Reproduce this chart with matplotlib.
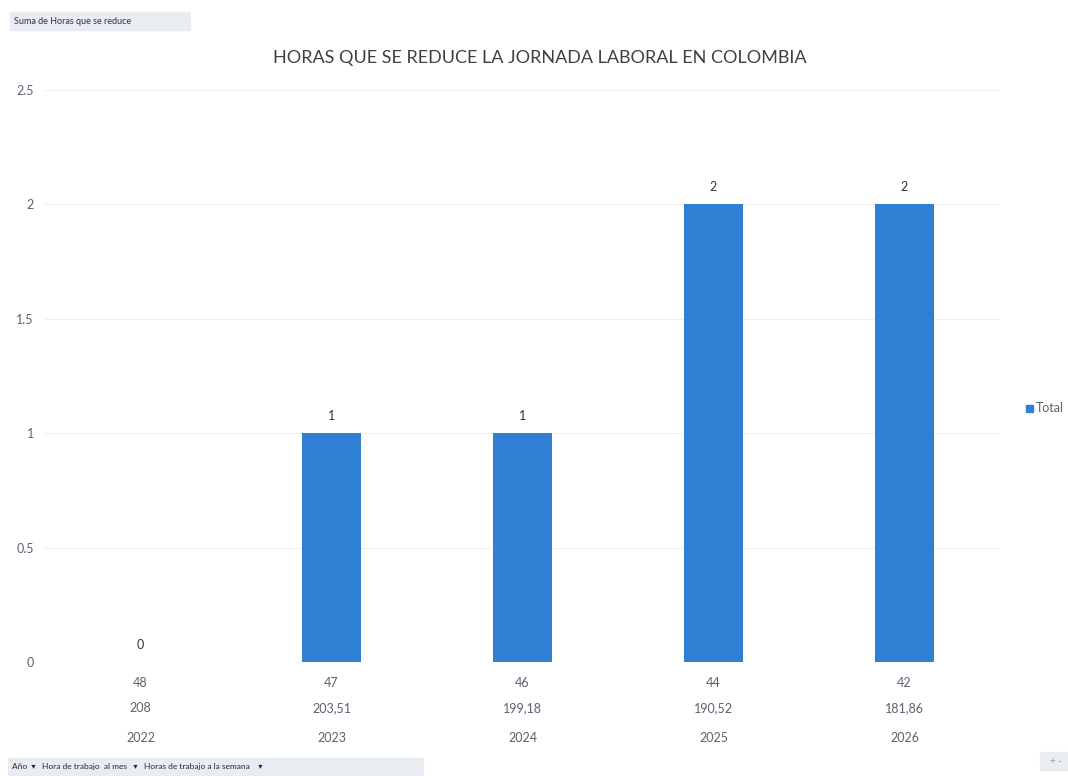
import matplotlib
matplotlib.use("Agg")
import matplotlib.pyplot as plt
from matplotlib.patches import FancyBboxPatch, Rectangle
import matplotlib.transforms as mtransforms

plt.rcParams['font.family'] = ['Lato', 'DejaVu Sans']

years = ["2022", "2023", "2024", "2025", "2026"]
hours_month = ["208", "203,51", "199,18", "190,52", "181,86"]
hours_week = ["48", "47", "46", "44", "42"]
hours_reduced = [0, 1, 1, 2, 2]
y_ticks = [0, 0.5, 1, 1.5, 2, 2.5]
y_ticklabels = ["0", "0.5", "1", "1.5", "2", "2.5"]

bar_color = "#2F80D4"
text_color = "#5a6270"

fig = plt.figure(figsize=(10.68, 7.76), dpi=100)
fig.patch.set_facecolor("white")
ax = fig.add_axes([45/1068, 114/776, 955/1068, 572/776])

x = list(range(len(years)))
ax.bar(x, hours_reduced, width=0.31, color=bar_color, zorder=3)
ax.set_xlim(-0.5, len(years) - 0.5)
ax.set_ylim(0, 2.5)
ax.set_yticks(y_ticks)
ax.set_yticklabels(y_ticklabels, fontsize=9, color=text_color)
ax.tick_params(axis='y', length=0, pad=8)
ax.tick_params(axis='x', length=0, labelbottom=False)
for s in ax.spines.values():
    s.set_visible(False)
ax.yaxis.grid(True, color="#f0f0f0", linewidth=0.8, zorder=0)

for xi, v in zip(x, hours_reduced):
    ax.annotate(str(v), (xi, v), xytext=(0, 8), textcoords="offset points",
                ha="center", va="bottom", fontsize=9, color="#333333")

trans = mtransforms.blended_transform_factory(ax.transData, fig.transFigure)
for xi, w, m, yr in zip(x, hours_week, hours_month, years):
    ax.text(xi, 1 - 683/776, w, transform=trans, ha="center", va="center",
            fontsize=9, color=text_color)
    ax.text(xi, 1 - 708/776, m, transform=trans, ha="center", va="center",
            fontsize=9, color=text_color)
    ax.text(xi, 1 - 738/776, yr, transform=trans, ha="center", va="center",
            fontsize=9, color=text_color)

fig.text(540/1068, 1 - 58/776, "HORAS QUE SE REDUCE LA JORNADA LABORAL EN COLOMBIA",
         ha="center", va="center", fontsize=13, color="#404040")

# Legend
fig.patches.append(Rectangle((1026/1068, 1 - 412/776), 7/1068, 7/776,
                             transform=fig.transFigure, color=bar_color))
fig.text(1036/1068, 1 - 408/776, "Total", ha="left", va="center",
         fontsize=9, color=text_color)

# Pivot field buttons
fig.patches.append(Rectangle((10/1068, 1 - 30/776), 180/1068, 18/776,
                             transform=fig.transFigure, color="#e9edf1"))
fig.text(14/1068, 1 - 21/776, "Suma de Horas que se reduce", ha="left", va="center",
         fontsize=6.5, color="#1f3550")
fig.patches.append(Rectangle((8/1068, 1 - 776/776), 415/1068, 18/776,
                             transform=fig.transFigure, color="#e9edf1"))
fig.text(12/1068, 1 - 767/776,
         "Año  ▾   Hora de trabajo  al mes   ▾   Horas de trabajo a la semana    ▾",
         ha="left", va="center", fontsize=6, color="#1f2a3a")
fig.patches.append(Rectangle((1040/1068, 1 - 770/776), 28/1068, 18/776,
                             transform=fig.transFigure, color="#e9edf1"))
fig.text(1050/1068, 1 - 761/776, "+ -", ha="left", va="center",
         fontsize=7, color="#8a9aa8")

fig.savefig("out.png", dpi=100, facecolor="white")
